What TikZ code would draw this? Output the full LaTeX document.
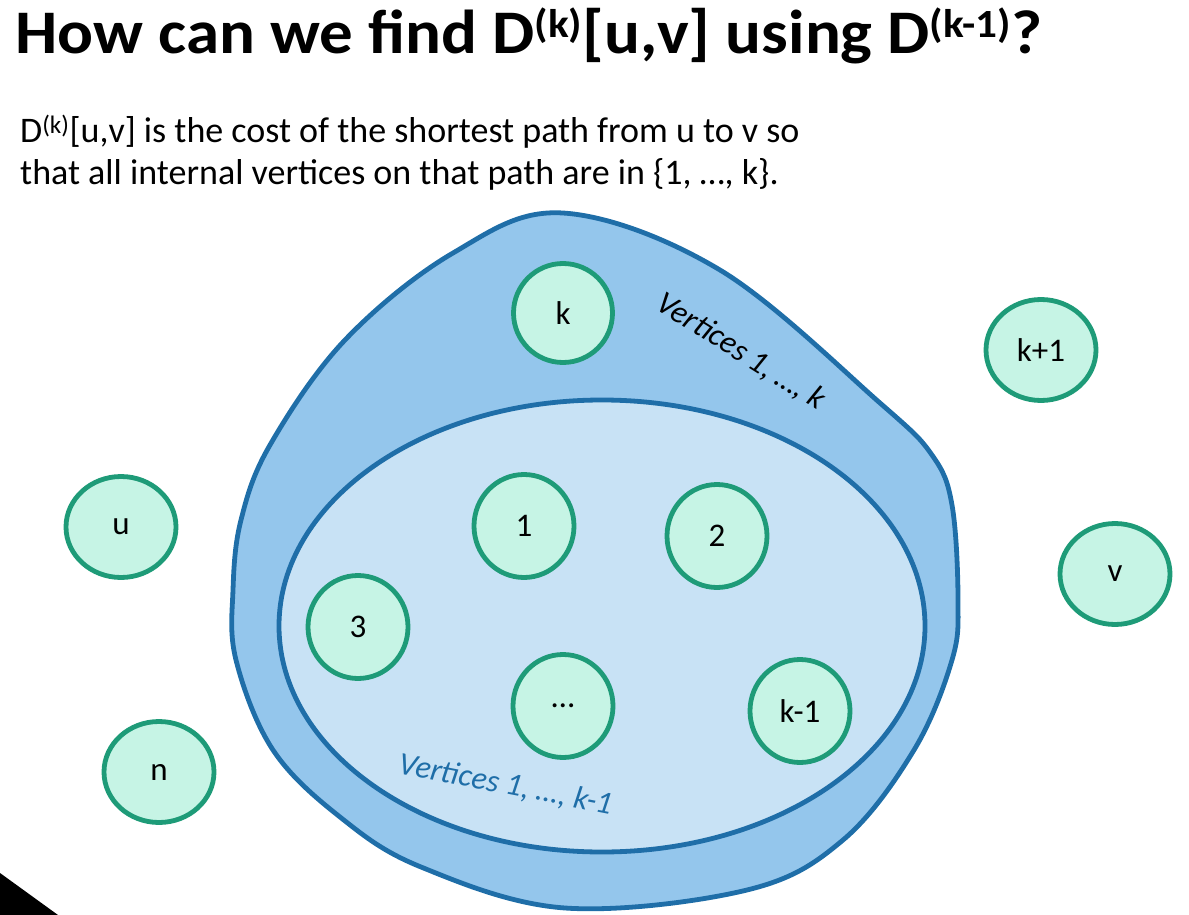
\documentclass[tikz,border=0pt]{standalone}
\usepackage{fontspec}
\setmainfont{Carlito}
\usetikzlibrary{shapes.geometric}
\definecolor{outerfill}{RGB}{148,198,236}
\definecolor{innerfill}{RGB}{200,226,245}
\definecolor{bluestroke}{RGB}{31,110,168}
\definecolor{nodefill}{RGB}{198,244,229}
\definecolor{nodegreen}{RGB}{30,155,120}
\tikzset{
  vtx/.style={ellipse, draw=nodegreen, fill=nodefill, line width=4.8pt, inner sep=0pt,
    minimum width=100pt, minimum height=103pt, font=\fontsize{33}{38}\selectfont},
  widevtx/.style={vtx, minimum width=110pt, minimum height=101pt},
  region/.style={draw=bluestroke, line width=4.8pt},
  setlabel/.style={font=\fontsize{32}{36}\selectfont\itshape, inner sep=0pt}
}
\newcommand{\bigsup}[1]{\raisebox{0.55ex}{\fontsize{40}{44}\selectfont #1}}
\begin{document}
\begin{tikzpicture}[x=1pt,y=-1pt]
\useasboundingbox (0,0) rectangle (1189,915);
% title
\node[anchor=base west, inner sep=0pt, xscale=1.08, font=\fontsize{62}{70}\selectfont\bfseries] (title) at (15,54)
  {How can we find D\bigsup{(k)}[u,v] using D\bigsup{(k-1)}?};
\node[anchor=base west, inner sep=0pt, font=\fontsize{36}{40}\selectfont] (line1) at (20,143)
  {D\textsuperscript{(k)}[u,v] is the cost of the shortest path from u to v so};
\node[anchor=base west, inner sep=0pt, font=\fontsize{36}{40}\selectfont] (line2) at (20,184)
  {that all internal vertices on that path are in \{1, …, k\}.};
% outer region
\draw[region, fill=outerfill] plot[smooth cycle, tension=0.6] coordinates {
  (563,213) (720,270) (880,403) (932,455) (952,505) (958,600) (952,660) (914,750)
  (843,840) (747,890) (565,908) (421,867) (340,817) (273,750) (236,660) (233,590)
  (241,520) (270,445) (345,340) (453,253)};
% inner region
\node[ellipse, region, fill=innerfill, minimum width=646pt, minimum height=452pt, inner sep=0pt] (inner) at (602,626) {};
% labels
\node[setlabel, rotate=-32] (outerlabel) at (741,352) {Vertices 1, …, k};
\node[setlabel, text=bluestroke, rotate=-11] (innerlabel) at (506,785) {Vertices 1, …, k-1};
% vertices
\node[vtx, minimum width=99pt, minimum height=99pt] (k) at (563,313) {k};
\node[widevtx] (kp1) at (1041,350) {k+1};
\node[widevtx] (u) at (121,527) {u};
\node[widevtx] (v) at (1115,574) {v};
\node[widevtx] (n) at (159,772) {n};
\node[vtx] (one) at (524,526) {1};
\node[vtx] (two) at (717,536) {2};
\node[vtx] (three) at (358,627) {3};
\node[vtx] (dots) at (563,706) {…};
\node[vtx] (km1) at (800,711) {k-1};
% corner triangle
\fill[black] (0,873) -- (58,915) -- (0,915) -- cycle;
\end{tikzpicture}
\end{document}
